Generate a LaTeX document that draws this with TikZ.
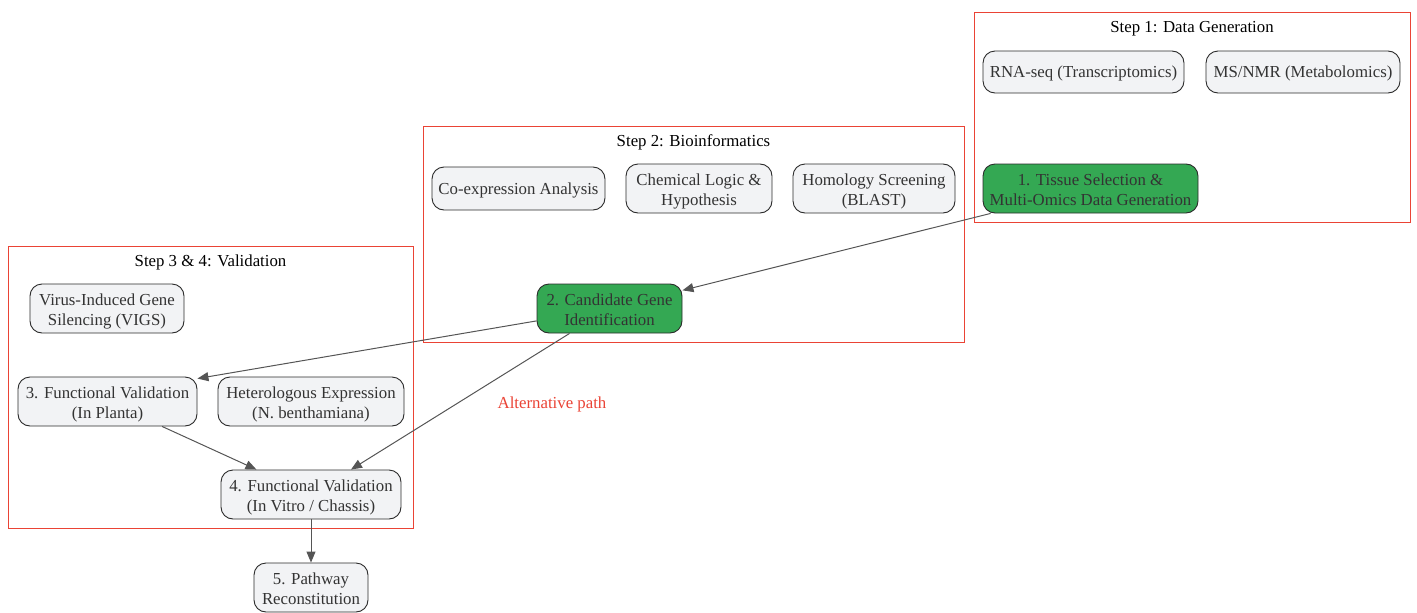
\documentclass[tikz,border=0pt]{standalone}
\usepackage{fontspec}
\setmainfont{Liberation Serif}
\usetikzlibrary{arrows.meta,calc}
\definecolor{nodefill}{HTML}{F2F3F5}
\definecolor{nodeline}{HTML}{2B2B2B}
\definecolor{greenfill}{HTML}{34A853}
\definecolor{redc}{HTML}{EA4335}
\definecolor{edgec}{HTML}{555555}
\definecolor{txt}{HTML}{333333}
\newcommand\mystrut{\rule[-3.6pt]{0pt}{18.6pt}}
\newcommand\fstrut{\rule{0pt}{18pt}}
\newcommand\lstrut{\rule[-4pt]{0pt}{4pt}}
\begin{document}
\begin{tikzpicture}[x=1pt,y=-1pt,
  txtstyle/.style={font=\fontsize{16.8}{20}\selectfont, inner sep=0pt},
  box/.style={txtstyle, draw=nodeline, fill=nodefill, rounded corners=12pt, line width=0.9pt,
    align=center, text=txt},
  gbox/.style={box, fill=greenfill},
  cluster/.style={draw=redc, line width=1pt, inner sep=0pt},
  ctitle/.style={txtstyle, text=black},
  edge/.style={draw=edgec, line width=1pt, -{Triangle[length=11pt,width=9pt]}}]
\useasboundingbox (0,0) rectangle (1417,613);

% clusters
\node[cluster, minimum width=436pt, minimum height=210pt] (c1) at (1192,117) {};
\node[cluster, minimum width=541pt, minimum height=216pt] (c2) at (693.5,234) {};
\node[cluster, minimum width=405pt, minimum height=282pt] (c3) at (210.5,387) {};
\node[ctitle] (t1) at (1192,27) {\mystrut Step 1: Data Generation};
\node[ctitle] (t2) at (693.5,141) {\mystrut Step 2: Bioinformatics};
\node[ctitle] (t3) at (210.5,261) {\mystrut Step 3 \& 4: Validation};

% step 1
\node[box, minimum width=201pt, minimum height=42pt] (rna) at (1083.5,72) {\mystrut RNA-seq (Transcriptomics)};
\node[box, minimum width=194pt, minimum height=42pt] (ms) at (1303,72) {\mystrut MS/NMR (Metabolomics)};
\node[gbox, minimum width=215pt, minimum height=49pt] (n1) at (1090.5,188.5) {\fstrut 1. Tissue Selection \&\\Multi-Omics Data Generation\lstrut};

% step 2
\node[box, minimum width=173pt, minimum height=43pt] (coex) at (518.5,188.5) {\mystrut Co-expression Analysis};
\node[box, minimum width=146pt, minimum height=49pt] (chem) at (699,188.5) {\fstrut Chemical Logic \&\\Hypothesis\lstrut};
\node[box, minimum width=162pt, minimum height=49pt] (hom) at (874,188.5) {\fstrut Homology Screening\\(BLAST)\lstrut};
\node[gbox, minimum width=145pt, minimum height=49pt] (n2) at (609.5,308.5) {\fstrut 2. Candidate Gene\\Identification\lstrut};

% step 3 & 4
\node[box, minimum width=154pt, minimum height=49pt] (vigs) at (107,308.5) {\fstrut Virus-Induced Gene\\Silencing (VIGS)\lstrut};
\node[box, minimum width=179pt, minimum height=49pt] (n3) at (107.5,401.5) {\fstrut 3. Functional Validation\\(In Planta)\lstrut};
\node[box, minimum width=186pt, minimum height=49pt] (het) at (311,401.5) {\fstrut Heterologous Expression\\(N. benthamiana)\lstrut};
\node[box, minimum width=180pt, minimum height=49pt] (n4) at (311,494.5) {\fstrut 4. Functional Validation\\(In Vitro / Chassis)\lstrut};
\node[box, minimum width=114pt, minimum height=49pt] (n5) at (311,587.5) {\fstrut 5. Pathway\\Reconstitution\lstrut};

\node[txtstyle, text=redc] (alt) at (552,403) {\mystrut Alternative path};

% edges
\draw[edge] (n1) -- (n2);
\draw[edge] (n2) -- ($(n3.north east)+(0,2)$);
\draw[edge] (n2) -- (n4);
\draw[edge] (n3) -- (n4);
\draw[edge] (n4) -- (n5);
\end{tikzpicture}
\end{document}
